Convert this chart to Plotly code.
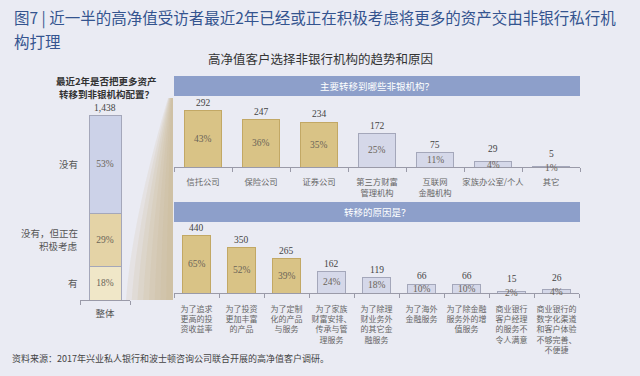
import plotly.graph_objects as go

W, H = 640, 376

# ---------------- data ----------------
overall_segments = ["有", "没有，但正在<br>积极考虑", "没有"]
overall_pcts = [18, 29, 53]
overall_total = "1,438"
overall_cat = ["整体"]

inst_labels = ["信托公司", "保险公司", "证券公司", "第三方财富<br>管理机构",
               "互联网<br>金融机构", "家族办公室/个人", "其它"]
inst_counts = [292, 247, 234, 172, 75, 29, 5]
inst_pcts = [43, 36, 35, 25, 11, 4, 1]

reason_labels = ["为了追求<br>更高的投<br>资收益率",
                 "为了投资<br>更加丰富<br>的产品",
                 "为了定制<br>化的产品<br>与服务",
                 "为了家族<br>财富安排、<br>传承与管<br>理服务",
                 "为了除理<br>财业务外<br>的其它金<br>融服务",
                 "为了海外<br>金融服务",
                 "为了除金融<br>服务外的增<br>值服务",
                 "商业银行<br>客户经理<br>的服务不<br>令人满意",
                 "商业银行的<br>数字化渠道<br>和客户体验<br>不够完善、<br>不便捷"]
reason_counts = [440, 350, 265, 162, 119, 66, 66, 15, 26]
reason_pcts = [65, 52, 39, 24, 18, 10, 10, 2, 4]

n_highlight = 3

# ---------------- styling ----------------
BG = "#eaebf3"
TAN = "#d9c386"
TAN_LINE = "#c2a865"
LAV = "#d5d8e9"
LAV_LINE = "#a4a7ba"
HEADER = "#8d9fca"
AXIS = "#9a9aa8"
SERIF = "Liberation Serif, Noto Sans CJK SC"
CJK = "Noto Sans CJK SC"
seg_colors = ["#f0e7c8", "#e4d3a6", "#ccd2e8"]


def px(x):
    return x / W


def py(y):
    return 1 - y / H


fig = go.Figure()

# left stacked bar
for name, val, col in zip(overall_segments, overall_pcts, seg_colors):
    fig.add_trace(go.Bar(
        x=overall_cat, y=[val], name=name, width=0.64,
        marker=dict(color=col, line=dict(color=LAV_LINE, width=1)),
        text=[f"{val}%"], textposition="inside", insidetextanchor="middle",
        textfont=dict(family=SERIF, size=9.5, color="#6a6458"),
        xaxis="x", yaxis="y", showlegend=False, hoverinfo="skip"))

# top panel bars
inst_colors = [TAN if i < n_highlight else LAV for i in range(len(inst_counts))]
inst_lines = [TAN_LINE if i < n_highlight else LAV_LINE for i in range(len(inst_counts))]
fig.add_trace(go.Bar(
    x=inst_labels, y=inst_counts, width=0.64,
    marker=dict(color=inst_colors, line=dict(color=inst_lines, width=1)),
    xaxis="x2", yaxis="y2", showlegend=False, hoverinfo="skip"))

# bottom panel bars
rs_colors = [TAN if i < n_highlight else LAV for i in range(len(reason_counts))]
rs_lines = [TAN_LINE if i < n_highlight else LAV_LINE for i in range(len(reason_counts))]
fig.add_trace(go.Bar(
    x=reason_labels, y=reason_counts, width=0.64,
    marker=dict(color=rs_colors, line=dict(color=rs_lines, width=1)),
    xaxis="x3", yaxis="y3", showlegend=False, hoverinfo="skip"))

annotations = []


def add_bar_labels(labels, counts, pcts, xr, yr):
    for lab, c, p in zip(labels, counts, pcts):
        shift = 5 if p < 5 else 1
        annotations.append(dict(x=lab, y=c, xref=xr, yref=yr, text=str(c),
                                showarrow=False, yanchor="bottom", yshift=shift,
                                font=dict(family=SERIF, size=9.5, color="#444")))
        annotations.append(dict(x=lab, y=c / 2, xref=xr, yref=yr, text=f"{p}%",
                                showarrow=False, yanchor="middle",
                                yshift=-1 if p < 5 else 0,
                                font=dict(family=SERIF, size=9.5, color="#6a6458")))


add_bar_labels(inst_labels, inst_counts, inst_pcts, "x2", "y2")
add_bar_labels(reason_labels, reason_counts, reason_pcts, "x3", "y3")

# left bar side labels (each line placed separately for tight spacing)
cum = 0
for name, val in zip(overall_segments, overall_pcts):
    lines = name.split("<br>")
    n = len(lines)
    for i, ln in enumerate(lines):
        annotations.append(dict(x=px(80), y=cum + val / 2, xref="paper", yref="y",
                                text=ln, showarrow=False, xanchor="right", align="right",
                                yanchor="middle", yshift=(n - 1) * 6.5 - i * 13,
                                font=dict(family=CJK, size=9.5, color="#555")))
    cum += val
annotations.append(dict(x=overall_cat[0], y=sum(overall_pcts), xref="x", yref="y",
                        text=overall_total, showarrow=False, yanchor="bottom", yshift=0,
                        font=dict(family=SERIF, size=9.5, color="#444")))

# texts
annotations += [
    dict(x=px(12), y=py(18), xref="paper", yref="paper", xanchor="left", yanchor="middle",
         text="图7 | 近一半的高净值受访者最近2年已经或正在积极考虑将更多的资产交由非银行私行机",
         showarrow=False, font=dict(family=CJK, size=15.5, color="#34548f")),
    dict(x=px(12), y=py(40.5), xref="paper", yref="paper", xanchor="left", yanchor="middle",
         text="构打理", showarrow=False, font=dict(family=CJK, size=15.5, color="#34548f")),
    dict(x=px(320), y=py(58), xref="paper", yref="paper", xanchor="center", yanchor="middle",
         text="高净值客户选择非银行机构的趋势和原因", showarrow=False,
         font=dict(family=CJK, size=12.5, color="#333")),
    dict(x=px(106), y=py(81), xref="paper", yref="paper", xanchor="center", yanchor="middle",
         text="<b>最近2年是否把更多资产</b>", showarrow=False,
         font=dict(family=CJK, size=9.5, color="#333")),
    dict(x=px(106), y=py(94), xref="paper", yref="paper", xanchor="center", yanchor="middle",
         text="<b>转移到非银机构配置？</b>", showarrow=False,
         font=dict(family=CJK, size=9.5, color="#333")),
    dict(x=px(377), y=py(86), xref="paper", yref="paper", xanchor="center", yanchor="middle",
         text="主要转移到哪些非银机构？", showarrow=False,
         font=dict(family=CJK, size=9.5, color="white")),
    dict(x=px(377), y=py(212), xref="paper", yref="paper", xanchor="center", yanchor="middle",
         text="转移的原因是？", showarrow=False,
         font=dict(family=CJK, size=9.5, color="white")),
    dict(x=px(10), y=py(358), xref="paper", yref="paper", xanchor="left", yanchor="middle",
         text="资料来源：2017年兴业私人银行和波士顿咨询公司联合开展的高净值客户调研。",
         showarrow=False, font=dict(family=CJK, size=9, color="#444")),
]

shapes = [
    dict(type="rect", xref="paper", yref="paper", x0=px(174), x1=px(580), y0=py(96), y1=py(76),
         fillcolor=HEADER, line=dict(width=0), layer="above"),
    dict(type="rect", xref="paper", yref="paper", x0=px(174), x1=px(580), y0=py(222), y1=py(202),
         fillcolor=HEADER, line=dict(width=0), layer="above"),
]

# funnel shading (layered to imitate a gradient)
nl = 8
for k in range(nl):
    f = k / nl
    bx0 = 126 + (172 - 126) * f
    cx = 132 + (172 - 132) * f
    tx = 168 + (172 - 168) * f
    path = (f"M {px(bx0)} {py(300)} Q {px(cx)} {py(220)} {px(tx)} {py(98)} "
            f"L {px(173)} {py(98)} L {px(173)} {py(300)} Z")
    shapes.append(dict(type="path", xref="paper", yref="paper", path=path,
                       fillcolor="#c6b184", opacity=0.14, line=dict(width=0), layer="below"))

xcommon = dict(type="category", showgrid=False, showline=True, linecolor=AXIS, linewidth=1,
               ticks="outside", ticklen=4, tickcolor=AXIS, tickson="boundaries",
               tickangle=0, zeroline=False, fixedrange=True)

fig.update_layout(
    width=W, height=H, margin=dict(l=0, r=0, t=0, b=0),
    paper_bgcolor=BG, plot_bgcolor="rgba(0,0,0,0)",
    barmode="stack", showlegend=False,
    annotations=annotations, shapes=shapes,
    xaxis=dict(domain=[px(80), px(130)], range=[-0.5, 0.5],
               tickfont=dict(family=CJK, size=9.5, color="#555"), ticklabelstandoff=5, **xcommon),
    yaxis=dict(domain=[py(300), py(115)], range=[0, 100], visible=False, fixedrange=True),
    xaxis2=dict(domain=[px(174), px(580)], range=[-0.5, 6.5], anchor="y2",
                tickfont=dict(family=CJK, size=8.3, color="#666"), ticklabelstandoff=7, **xcommon),
    yaxis2=dict(domain=[py(167), py(100)], range=[0, 67 / 0.192], visible=False,
                anchor="x2", fixedrange=True),
    xaxis3=dict(domain=[px(174), px(579)], range=[-0.5, 8.5], anchor="y3",
                tickfont=dict(family=CJK, size=8, color="#666"), ticklabelstandoff=8, **xcommon),
    yaxis3=dict(domain=[py(293), py(225)], range=[0, 68 / 0.13], visible=False,
                anchor="x3", fixedrange=True),
)

fig.write_html("out.html", config={"displayModeBar": False, "staticPlot": True})
